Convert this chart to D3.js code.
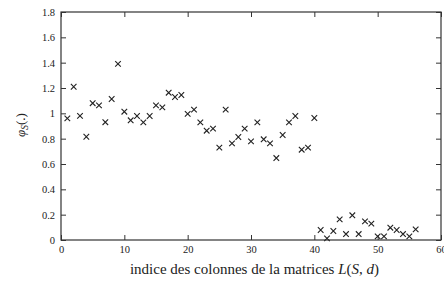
<!DOCTYPE html>
<html><head><meta charset="utf-8">
<script src="https://cdn.jsdelivr.net/npm/d3@7"></script>
<style>body{margin:0;background:#fff}svg{display:block}text{font-family:"Liberation Serif","Times New Roman","DejaVu Serif",serif}</style>
</head><body>
<script>
const xIndex = [1,2,3,4,5,6,7,8,9,10,11,12,13,14,15,16,17,18,19,20,21,22,23,24,25,26,27,28,29,30,31,32,33,34,35,36,37,38,39,40,41,42,43,44,45,46,47,48,49,50,51,52,53,54,55,56];
const phiValues = [0.96,1.21,0.98,0.815,1.08,1.063,0.93,1.113,1.39,1.013,0.945,0.979,0.929,0.979,1.063,1.047,1.163,1.129,1.145,0.996,1.029,0.929,0.863,0.879,0.729,1.029,0.763,0.813,0.879,0.779,0.929,0.795,0.763,0.647,0.829,0.929,0.979,0.713,0.729,0.963,0.079,0.013,0.071,0.163,0.047,0.195,0.047,0.147,0.129,0.029,0.029,0.097,0.079,0.047,0.029,0.084];
const xTicks = [0,10,20,30,40,50,60];
const yTicks = [0,0.2,0.4,0.6,0.8,1,1.2,1.4,1.6,1.8];

const W = 444, H = 282;
const L = 61, R = 441, T = 12, B = 240;
const svg = d3.select("body").append("svg").attr("width", W).attr("height", H);
const x = d3.scaleLinear().domain([0,60]).range([L,R]);
const y = d3.scaleLinear().domain([0,1.8]).range([B,T]);
const axCol = "#333";

svg.append("rect").attr("x",L).attr("y",T).attr("width",R-L).attr("height",B-T)
  .attr("fill","none").attr("stroke",axCol).attr("stroke-width",1.2);

const tl = 5;
const gx = svg.append("g").attr("transform",`translate(0,${B})`)
  .call(d3.axisBottom(x).tickValues(xTicks).tickSize(-tl).tickPadding(6).tickFormat(d3.format("d")));
gx.select(".domain").remove();
gx.attr("font-family",null);
gx.selectAll("line").attr("stroke",axCol);
gx.selectAll("text").attr("font-size",10.5).attr("fill","#222");
const gxt = svg.append("g").attr("transform",`translate(0,${T})`)
  .call(d3.axisTop(x).tickValues(xTicks).tickSize(-tl).tickFormat(""));
gxt.select(".domain").remove();
gxt.selectAll("line").attr("stroke",axCol);

const gy = svg.append("g").attr("transform",`translate(${L},0)`)
  .call(d3.axisLeft(y).tickValues(yTicks).tickSize(-tl).tickPadding(6).tickFormat(d => String(+d.toFixed(1))));
gy.select(".domain").remove();
gy.attr("font-family",null);
gy.selectAll("line").attr("stroke",axCol);
gy.selectAll("text").attr("font-size",10.5).attr("fill","#222");
const gyr = svg.append("g").attr("transform",`translate(${R},0)`)
  .call(d3.axisRight(y).tickValues(yTicks).tickSize(-tl).tickFormat(""));
gyr.select(".domain").remove();
gyr.selectAll("line").attr("stroke",axCol);

const s = 2.8;
const pts = svg.append("g").attr("stroke","#222").attr("stroke-width",1.1);
xIndex.forEach((xi,i) => {
  const cx = x(xi), cy = y(phiValues[i]);
  pts.append("path").attr("d",`M${cx-s},${cy-s}L${cx+s},${cy+s}M${cx-s},${cy+s}L${cx+s},${cy-s}`);
});

const xl = svg.append("text").attr("x",(128+381)/2).attr("y",274).attr("text-anchor","middle")
  .attr("font-size",15).attr("fill","#222");
xl.append("tspan").text("indice des colonnes de la matrices ");
xl.append("tspan").attr("font-style","italic").text("L");
xl.append("tspan").text("(");
xl.append("tspan").attr("font-style","italic").text("S");
xl.append("tspan").text(", ");
xl.append("tspan").attr("font-style","italic").text("d");
xl.append("tspan").text(")");

const yl = svg.append("text").attr("transform","translate(25,125) rotate(-90)").attr("text-anchor","middle")
  .attr("font-size",13).attr("fill","#222");
yl.append("tspan").attr("font-style","italic").text("φ");
yl.append("tspan").attr("font-style","italic").attr("font-size",9.5).attr("dy",3).text("S");
yl.append("tspan").attr("dy",-3).text("(.)");
</script>
</body></html>
